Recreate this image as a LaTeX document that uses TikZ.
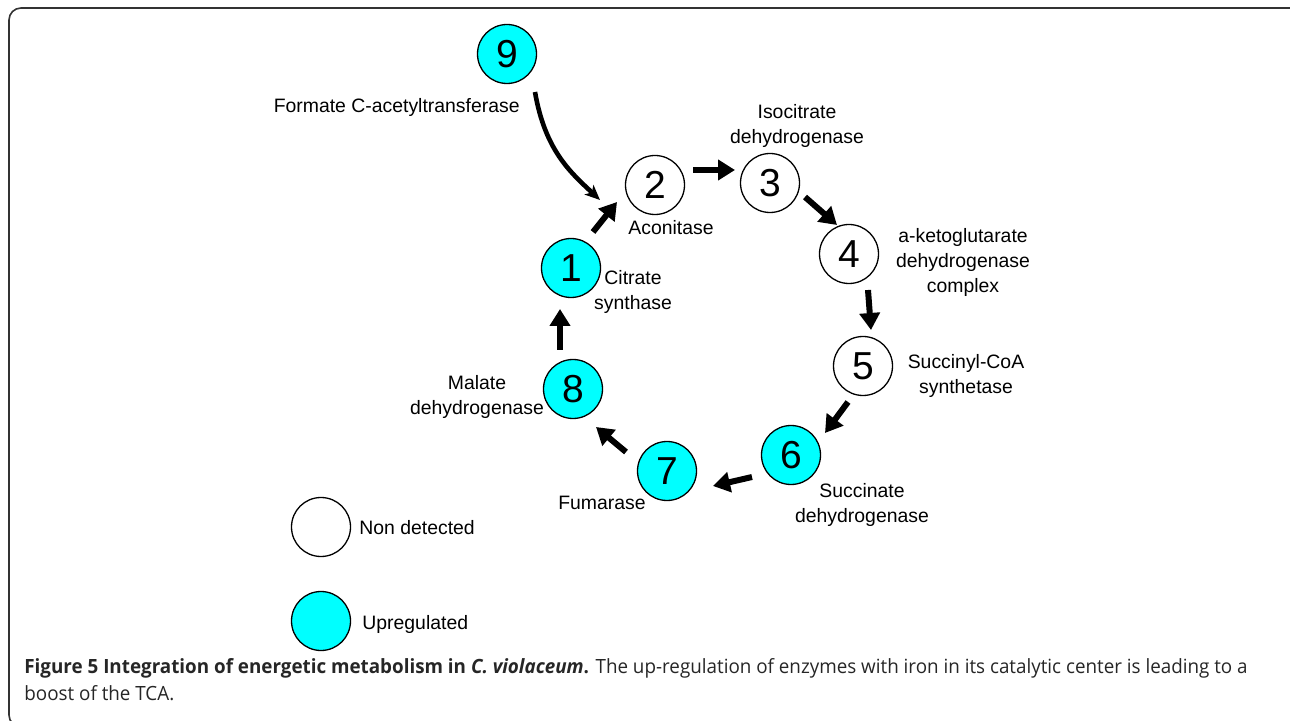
\documentclass[tikz,border=0pt]{standalone}
\usepackage{fontspec}
\setmainfont{Liberation Sans}
\newfontfamily\capfont[FakeStretch=0.96]{Open Sans}
\usetikzlibrary{arrows.meta}
\definecolor{upcyan}{RGB}{0,255,255}

\begin{document}
\begin{tikzpicture}[x=0.5pt,y=-0.5pt,
  enzyme/.style={circle,draw,line width=0.65pt,minimum size=29.5pt,inner sep=0pt,font=\fontsize{19.5}{20}\selectfont},
  nondet/.style={enzyme,fill=white},
  upreg/.style={enzyme,fill=upcyan},
  lbl/.style={align=center,inner sep=0pt,font=\fontsize{9.7}{12.5}\selectfont},
  flow/.style={line width=3pt,-{Triangle[length=8.5pt,width=10pt]}},
  feed/.style={line width=2.3pt,-{Stealth[length=7.5pt,width=6.5pt,inset=2pt]}},
  caption/.style={anchor=base west,inner sep=0pt,text=black!85,font=\capfont\fontsize{9.8}{12}\selectfont}]
  \useasboundingbox (0,0) rectangle (1290,721);
  \begin{scope}
    \clip (0,0) rectangle (1290,721);
    \draw[black!80,line width=0.8pt,rounded corners=6pt] (9,8) rectangle (1302,727);
  \end{scope}

  \node[upreg]  (e9) at (507,54)  {9};
  \node[upreg]  (e1) at (571,268) {1};
  \node[nondet] (e2) at (655,185) {2};
  \node[nondet] (e3) at (770,183) {3};
  \node[nondet] (e4) at (849,254) {4};
  \node[nondet] (e5) at (863,366) {5};
  \node[upreg]  (e6) at (791,455) {6};
  \node[upreg]  (e7) at (667,471) {7};
  \node[upreg]  (e8) at (573,389) {8};

  \node[lbl,anchor=base east] (l9) at (520,113) {Formate C-acetyltransferase};
  \node[lbl] (l1) at (633,292) {Citrate\\synthase};
  \node[lbl] (l2) at (671,228) {Aconitase};
  \node[lbl] (l3) at (797,126) {Isocitrate\\dehydrogenase};
  \node[lbl] (l4) at (963,262) {a-ketoglutarate\\dehydrogenase\\complex};
  \node[lbl] (l5) at (966,376) {Succinyl-CoA\\synthetase};
  \node[lbl] (l6) at (862,505) {Succinate\\dehydrogenase};
  \node[lbl] (l7) at (602,503) {Fumarase};
  \node[lbl] (l8) at (477,397) {Malate\\dehydrogenase};

  \draw[flow] ([shift={(22,-36)}]e1.center) -- ([shift={(-38,17)}]e2.center);
  \draw[flow] ([shift={(38,-15)}]e2.center) -- ([shift={(-35,-13)}]e3.center);
  \draw[flow] ([shift={(35,14)}]e3.center) -- ([shift={(-12,-29)}]e4.center);
  \draw[flow] ([shift={(19,36)}]e4.center) -- ([shift={(8,-36)}]e5.center);
  \draw[flow] ([shift={(-15,36)}]e5.center) -- ([shift={(34,-22)}]e6.center);
  \draw[flow] ([shift={(-39,22)}]e6.center) -- ([shift={(46,15)}]e7.center);
  \draw[flow] ([shift={(-41,-19)}]e7.center) -- ([shift={(23,38)}]e8.center);
  \draw[flow] ([shift={(-13,-39)}]e8.center) -- ([shift={(-11,41)}]e1.center);
  \draw[feed] ([shift={(28,38)}]e9.center) .. controls (545,150) and (570,172) .. ([shift={(-55,15)}]e2.center);

  \node[nondet] (k1) at (321,527) {};
  \node[upreg]  (k2) at (321,621) {};
  \node[lbl,anchor=base west] (kl1) at (359,534) {Non detected};
  \node[lbl,anchor=base west] (kl2) at (362,629) {Upregulated};

  \node[caption] (cap1) at (24,673) {\textbf{Figure 5 Integration of energetic metabolism in \textit{C. violaceum}.} The up-regulation of enzymes with iron in its catalytic center is leading to a};
  \node[caption] (cap2) at (24,700) {boost of the TCA.};
\end{tikzpicture}
\end{document}
